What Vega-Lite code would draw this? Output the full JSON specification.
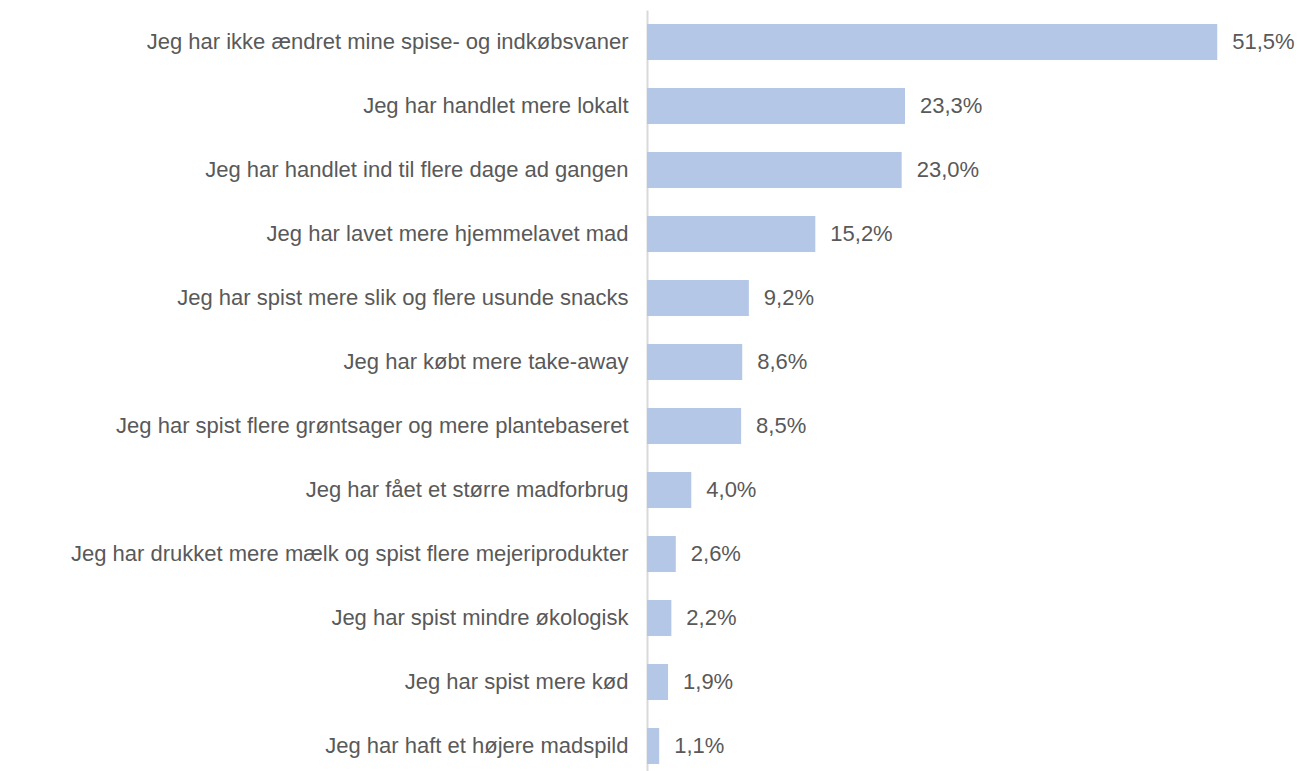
{
  "$schema": "https://vega.github.io/schema/vega-lite/v6.json",
  "autosize": "none",
  "width": 609,
  "height": 768,
  "padding": {"left": 647, "top": 10, "right": 46, "bottom": 0},
  "background": "white",
  "config": {
    "view": {"stroke": null},
    "locale": {"number": {"decimal": ",", "thousands": ".", "grouping": [3], "currency": ["", " kr"]}},
    "font": "Liberation Sans"
  },
  "data": {
    "values": [
      {"svar": "Jeg har ikke ændret mine spise- og indkøbsvaner", "andel": 0.515},
      {"svar": "Jeg har handlet mere lokalt", "andel": 0.233},
      {"svar": "Jeg har handlet ind til flere dage ad gangen", "andel": 0.230},
      {"svar": "Jeg har lavet mere hjemmelavet mad", "andel": 0.152},
      {"svar": "Jeg har spist mere slik og flere usunde snacks", "andel": 0.092},
      {"svar": "Jeg har købt mere take-away", "andel": 0.086},
      {"svar": "Jeg har spist flere grøntsager og mere plantebaseret", "andel": 0.085},
      {"svar": "Jeg har fået et større madforbrug", "andel": 0.040},
      {"svar": "Jeg har drukket mere mælk og spist flere mejeriprodukter", "andel": 0.026},
      {"svar": "Jeg har spist mindre økologisk", "andel": 0.022},
      {"svar": "Jeg har spist mere kød", "andel": 0.019},
      {"svar": "Jeg har haft et højere madspild", "andel": 0.011}
    ]
  },
  "encoding": {
    "y": {
      "field": "svar", "type": "nominal", "sort": null, "title": null,
      "scale": {"paddingInner": 0.4375, "paddingOuter": 0.21875},
      "axis": {
        "ticks": false, "grid": false,
        "domain": true, "domainColor": "#d9d9d9", "domainWidth": 2,
        "labelFontSize": 22, "labelColor": "#595959", "labelPadding": 19,
        "labelLimit": 700, "labelFont": "Liberation Sans"
      }
    },
    "x": {
      "field": "andel", "type": "quantitative", "title": null,
      "scale": {"domain": [0, 0.55], "nice": false},
      "axis": null
    }
  },
  "layer": [
    {"mark": {"type": "bar", "color": "#b4c7e7", "x": 1.5}},
    {
      "mark": {"type": "text", "align": "left", "baseline": "middle", "dx": 15, "fontSize": 22, "color": "#595959", "font": "Liberation Sans", "clip": false},
      "encoding": {"text": {"field": "andel", "type": "quantitative", "format": ".1%"}}
    }
  ]
}
